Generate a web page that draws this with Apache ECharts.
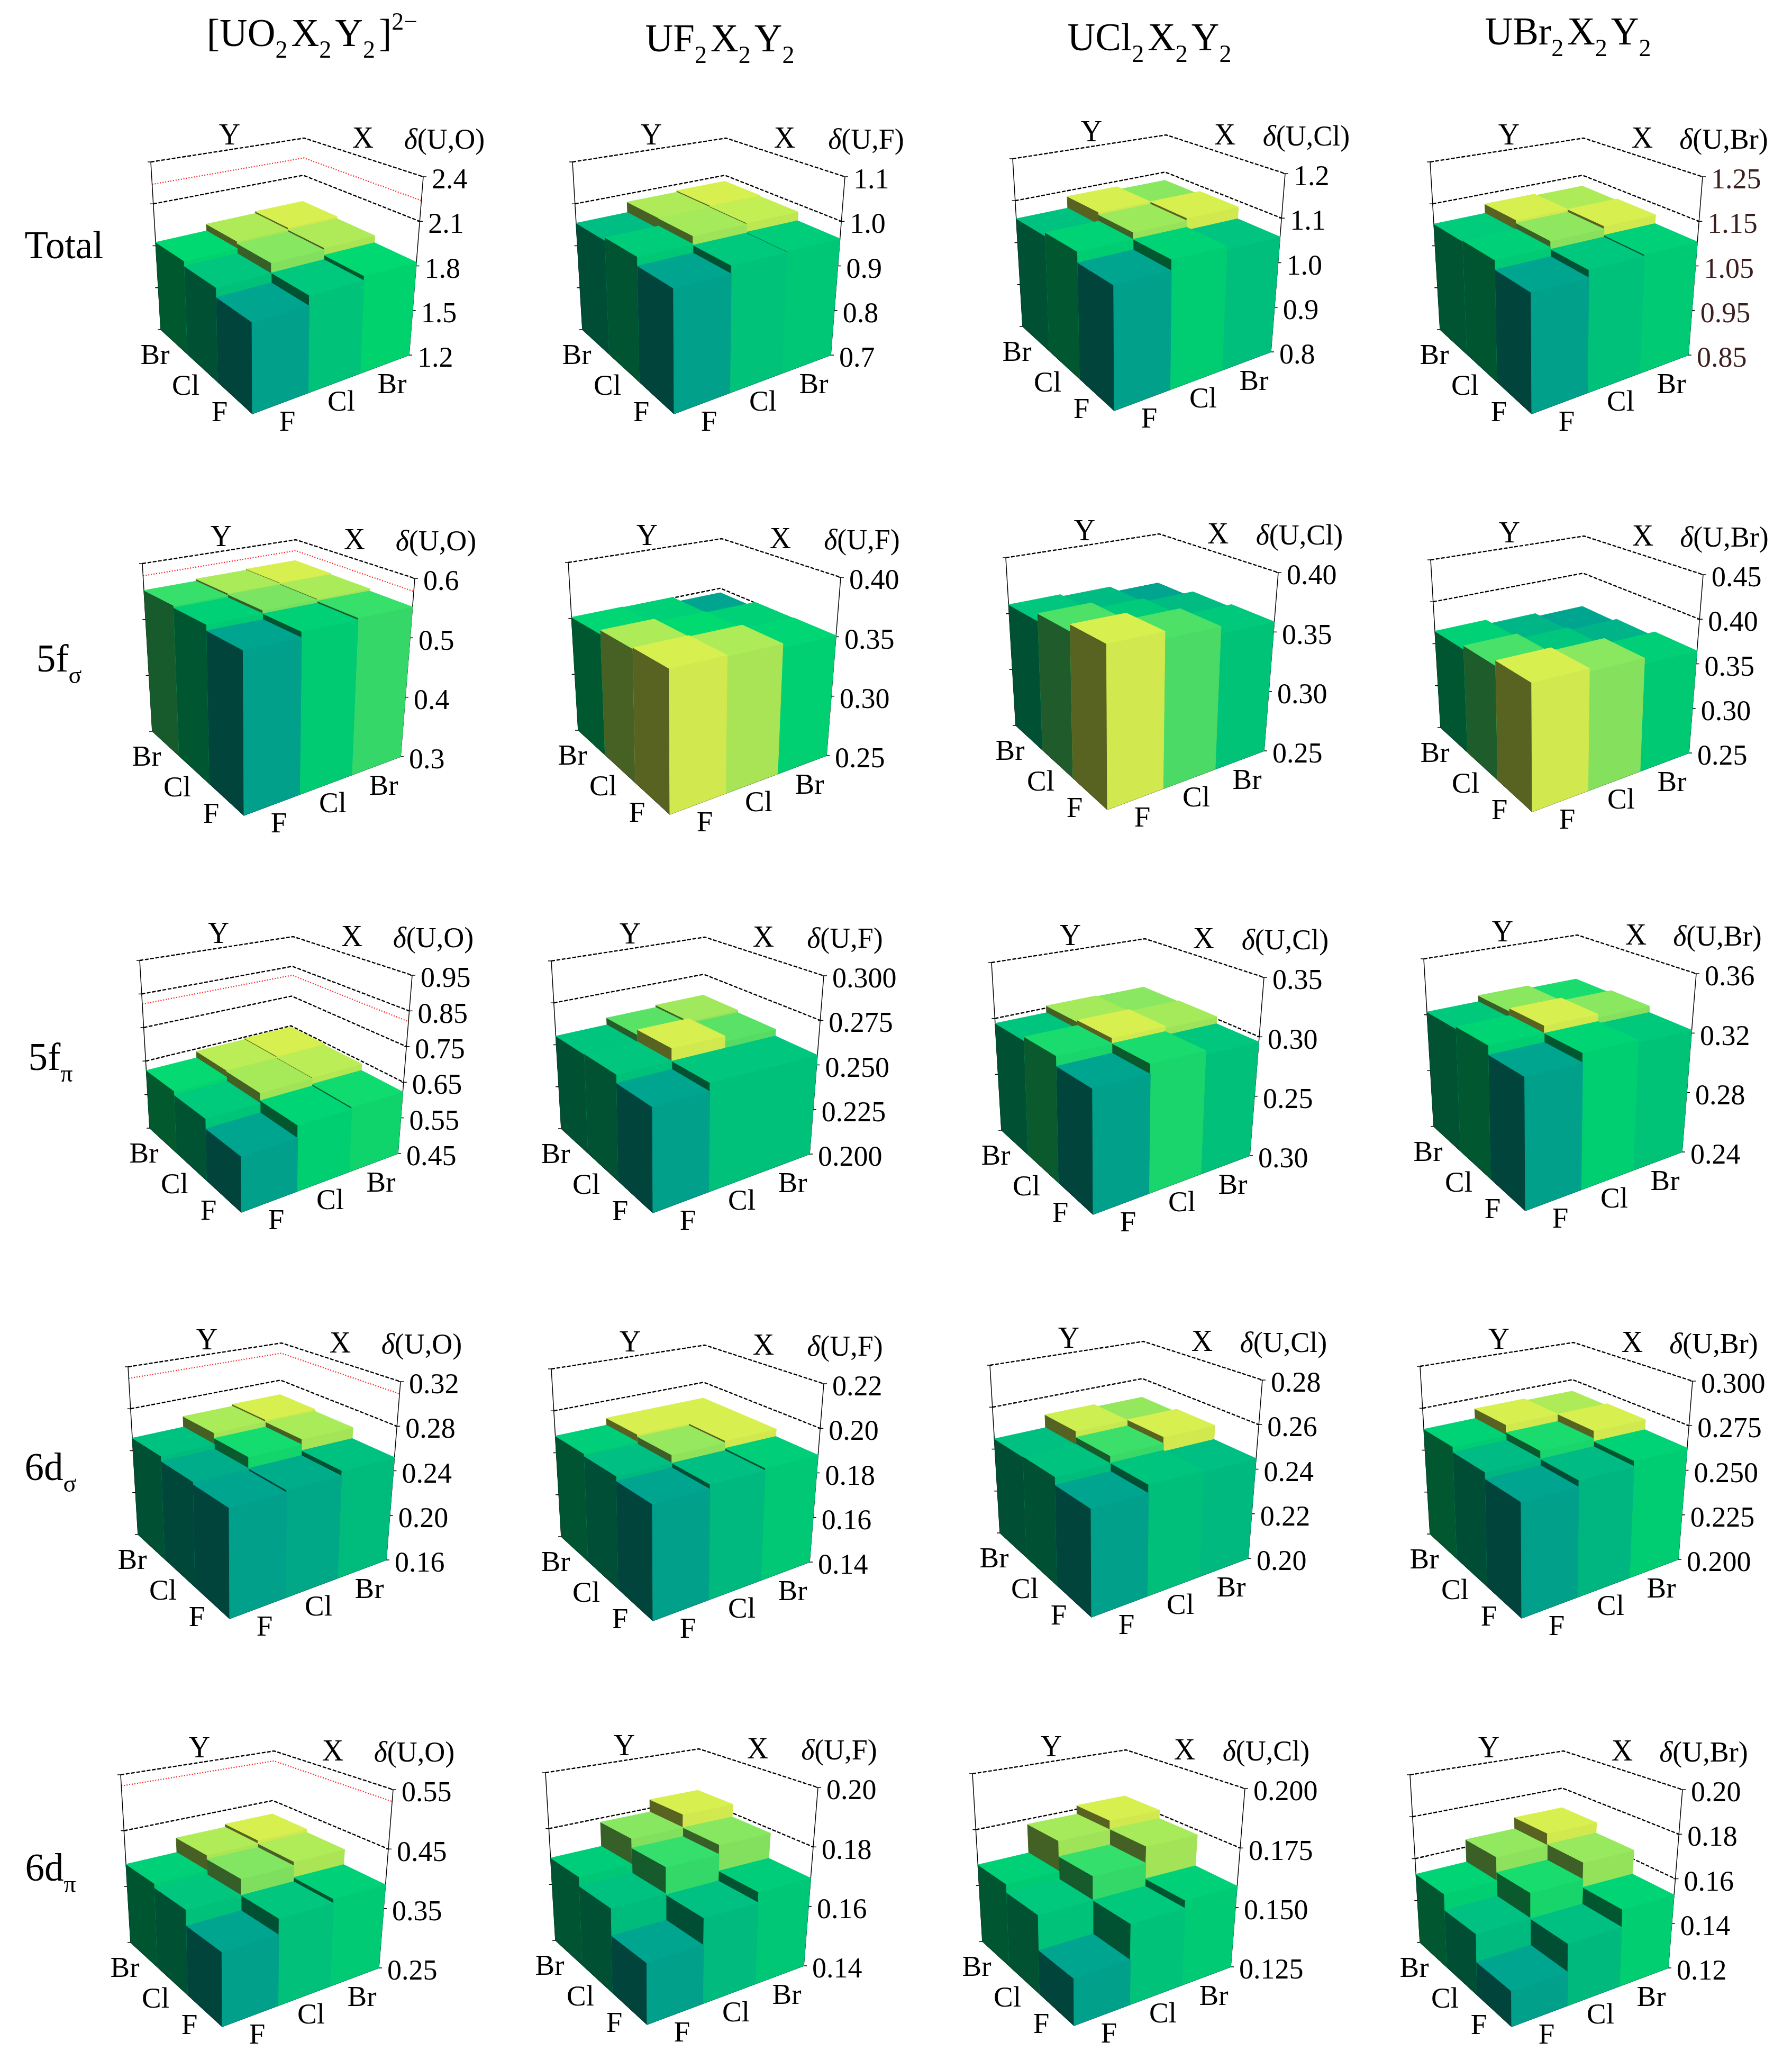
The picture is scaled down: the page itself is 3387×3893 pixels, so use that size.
<!DOCTYPE html>
<html>
<head>
<meta charset="utf-8">
<title>delta(U,L) bars</title>
<script src="https://cdn.jsdelivr.net/npm/echarts@6/dist/echarts.min.js"></script>
<style>
html, body { margin: 0; padding: 0; background: #fff; }
#main { width: 3387px; height: 3893px; }
</style>
</head>
<body>
<div id="main"></div>
<script>
// categories
var xCats = ['F', 'Cl', 'Br'];
var yCats = ['F', 'Cl', 'Br'];
var rowNames = ['Total', '5f', '5f', '6d', '6d'];
var rowSubs = ['', 'σ', 'π', 'σ', 'π'];

// bar heights, row by row: Y = F, Cl, Br and in each row X = F, Cl, Br
var totalUO2 = [1.73, 1.795, 1.825, 1.79, 1.86, 1.875, 1.825, 1.875, 1.89];
var totalUF2 = [0.942, 0.959, 0.961, 0.961, 0.979, 0.982, 0.954, 0.98, 0.984];
var totalUCl2 = [1.042, 1.065, 1.058, 1.065, 1.08, 1.086, 1.057, 1.086, 1.078];
var totalUBr2 = [1.084, 1.10, 1.104, 1.104, 1.118, 1.125, 1.102, 1.125, 1.121];
var fsUO2 = [0.539, 0.5485, 0.552, 0.5485, 0.554, 0.556, 0.552, 0.556, 0.558];
var fsUF2 = [0.3555, 0.3545, 0.351, 0.3545, 0.3515, 0.3505, 0.351, 0.3505, 0.3455];
var fsUCl2 = [0.37, 0.3645, 0.3586, 0.3645, 0.359, 0.356, 0.358, 0.356, 0.3505];
var fsUBr2 = [0.3745, 0.371, 0.3646, 0.369, 0.3626, 0.359, 0.365, 0.3596, 0.3554];
var fpUO2 = [0.585, 0.618, 0.623, 0.611, 0.639, 0.642, 0.622, 0.642, 0.646];
var fpUF2 = [0.251, 0.2555, 0.2555, 0.2555, 0.2625, 0.2595, 0.2552, 0.2595, 0.261];
var fpUCl2 = [0.291, 0.2990, 0.2957, 0.2990, 0.3035, 0.302, 0.2956, 0.302, 0.3012];
var fpUBr2 = [0.3175, 0.3235, 0.322, 0.3235, 0.3285, 0.3265, 0.322, 0.3265, 0.3245];
var dsUO2 = [0.2455, 0.2475, 0.252, 0.2475, 0.2575, 0.2625, 0.252, 0.2625, 0.2645];
var dsUF2 = [0.185, 0.187, 0.188, 0.187, 0.1905, 0.1915, 0.188, 0.1915, 0.1915];
var dsUCl2 = [0.2418, 0.2454, 0.2448, 0.2452, 0.2485, 0.2515, 0.2449, 0.2513, 0.25];
var dsUBr2 = [0.256, 0.2595, 0.2625, 0.2595, 0.264, 0.2685, 0.2625, 0.2685, 0.2673];
var dpUO2 = [0.358, 0.383, 0.39, 0.383, 0.41, 0.417, 0.39, 0.417, 0.423];
var dpUF2 = [0.1578, 0.1661, 0.1695, 0.1664, 0.1752, 0.1785, 0.1695, 0.1785, 0.1833];
var dpUCl2 = [0.142, 0.1558, 0.159, 0.1558, 0.1657, 0.1729, 0.1593, 0.1726, 0.1768];
var dpUBr2 = [0.1337, 0.1452, 0.1528, 0.1454, 0.1565, 0.1642, 0.1526, 0.1637, 0.1695];

// tick labels, bottom to top
var ticksTotalUO2 = ['1.2', '1.5', '1.8', '2.1', '2.4'];
var ticksTotalUF2 = ['0.7', '0.8', '0.9', '1.0', '1.1'];
var ticksTotalUCl2 = ['0.8', '0.9', '1.0', '1.1', '1.2'];
var ticksTotalUBr2 = ['0.85', '0.95', '1.05', '1.15', '1.25'];
var ticksFsUO2 = ['0.3', '0.4', '0.5', '0.6'];
var ticksFsUF2 = ['0.25', '0.30', '0.35', '0.40'];
var ticksFsUCl2 = ['0.25', '0.30', '0.35', '0.40'];
var ticksFsUBr2 = ['0.25', '0.30', '0.35', '0.40', '0.45'];
var ticksFpUO2 = ['0.45', '0.55', '0.65', '0.75', '0.85', '0.95'];
var ticksFpUF2 = ['0.200', '0.225', '0.250', '0.275', '0.300'];
var ticksFpUCl2 = ['0.30', '0.25', '0.30', '0.35']; // bottom label is printed 0.30 in the source figure
var ticksFpUBr2 = ['0.24', '0.28', '0.32', '0.36'];
var ticksDsUO2 = ['0.16', '0.20', '0.24', '0.28', '0.32'];
var ticksDsUF2 = ['0.14', '0.16', '0.18', '0.20', '0.22'];
var ticksDsUCl2 = ['0.20', '0.22', '0.24', '0.26', '0.28'];
var ticksDsUBr2 = ['0.200', '0.225', '0.250', '0.275', '0.300'];
var ticksDpUO2 = ['0.25', '0.35', '0.45', '0.55'];
var ticksDpUF2 = ['0.14', '0.16', '0.18', '0.20'];
var ticksDpUCl2 = ['0.125', '0.150', '0.175', '0.200'];
var ticksDpUBr2 = ['0.12', '0.14', '0.16', '0.18', '0.20'];

// red reference level, only in the first column
var redLevels = [2.24, 0.578, 0.82, 0.309, 0.53];

var panels = [
    { values: totalUO2, ticks: ticksTotalUO2, min: 1.2, max: 2.4, name: '(U,O)', col: 0, row: 0 },
    { values: totalUF2, ticks: ticksTotalUF2, min: 0.7, max: 1.1, name: '(U,F)', col: 1, row: 0 },
    { values: totalUCl2, ticks: ticksTotalUCl2, min: 0.8, max: 1.2, name: '(U,Cl)', col: 2, row: 0 },
    { values: totalUBr2, ticks: ticksTotalUBr2, min: 0.85, max: 1.25, name: '(U,Br)', col: 3, row: 0, tickColor: '#3c1f1f' },
    { values: fsUO2, ticks: ticksFsUO2, min: 0.3, max: 0.6, name: '(U,O)', col: 0, row: 1 },
    { values: fsUF2, ticks: ticksFsUF2, min: 0.25, max: 0.4, name: '(U,F)', col: 1, row: 1 },
    { values: fsUCl2, ticks: ticksFsUCl2, min: 0.25, max: 0.4, name: '(U,Cl)', col: 2, row: 1 },
    { values: fsUBr2, ticks: ticksFsUBr2, min: 0.25, max: 0.45, name: '(U,Br)', col: 3, row: 1 },
    { values: fpUO2, ticks: ticksFpUO2, min: 0.45, max: 0.95, name: '(U,O)', col: 0, row: 2 },
    { values: fpUF2, ticks: ticksFpUF2, min: 0.2, max: 0.3, name: '(U,F)', col: 1, row: 2 },
    { values: fpUCl2, ticks: ticksFpUCl2, min: 0.2, max: 0.35, name: '(U,Cl)', col: 2, row: 2 },
    { values: fpUBr2, ticks: ticksFpUBr2, min: 0.24, max: 0.36, name: '(U,Br)', col: 3, row: 2 },
    { values: dsUO2, ticks: ticksDsUO2, min: 0.16, max: 0.32, name: '(U,O)', col: 0, row: 3 },
    { values: dsUF2, ticks: ticksDsUF2, min: 0.14, max: 0.22, name: '(U,F)', col: 1, row: 3 },
    { values: dsUCl2, ticks: ticksDsUCl2, min: 0.2, max: 0.28, name: '(U,Cl)', col: 2, row: 3 },
    { values: dsUBr2, ticks: ticksDsUBr2, min: 0.2, max: 0.3, name: '(U,Br)', col: 3, row: 3 },
    { values: dpUO2, ticks: ticksDpUO2, min: 0.25, max: 0.55, name: '(U,O)', col: 0, row: 4 },
    { values: dpUF2, ticks: ticksDpUF2, min: 0.14, max: 0.2, name: '(U,F)', col: 1, row: 4 },
    { values: dpUCl2, ticks: ticksDpUCl2, min: 0.125, max: 0.2, name: '(U,Cl)', col: 2, row: 4 },
    { values: dpUBr2, ticks: ticksDpUBr2, min: 0.12, max: 0.2, name: '(U,Br)', col: 3, row: 4 }
];

// layout: front bottom corner of each panel, then the box shape relative to it
var frontX = [
    [477, 1274, 2106, 2895],
    [461, 1266, 2093, 2896],
    [456, 1234, 2066, 2883],
    [434, 1234, 2063, 2876],
    [420, 1223, 2030, 2857]
];
var frontY = [
    [782, 782, 776, 782],
    [1541, 1539, 1530, 1534],
    [2291, 2292, 2295, 2288],
    [3059, 3063, 3056, 3058],
    [3830, 3826, 3828, 3830]
];
var floorQuad = [[0, 0], [296, -111], [91, -240], [-173, -159]];
var roofQuad = [[-2, -392], [323, -448], [98, -521], [-192, -476]];

var serif = '"Liberation Serif", "Times New Roman", serif';
var rampStops = ['rgb(0,165,143)', 'rgb(0,180,136)', 'rgb(0,200,125)', 'rgb(0,218,113)', 'rgb(130,230,98)', 'rgb(215,240,80)'];

// maps the unit square on a quad, keeps the perspective of the drawing
function squareToQuad(q) {
    var x0 = q[0][0], y0 = q[0][1], x1 = q[1][0], y1 = q[1][1];
    var x2 = q[2][0], y2 = q[2][1], x3 = q[3][0], y3 = q[3][1];
    var dx1 = x1 - x2, dx2 = x3 - x2, sx = x0 - x1 + x2 - x3;
    var dy1 = y1 - y2, dy2 = y3 - y2, sy = y0 - y1 + y2 - y3;
    var den = dx1 * dy2 - dx2 * dy1;
    var g = (sx * dy2 - dx2 * sy) / den;
    var h = (dx1 * sy - sx * dy1) / den;
    var a = x1 - x0 + g * x1, b = x3 - x0 + h * x3;
    var d = y1 - y0 + g * y1, e = y3 - y0 + h * y3;
    return function (u, v) {
        var w = g * u + h * v + 1;
        return [(a * u + b * v + x0) / w, (d * u + e * v + y0) / w];
    };
}
var floorMap = squareToQuad(floorQuad);
var roofMap = squareToQuad(roofQuad);

function shade(color, k) {
    var c = echarts.color.parse(color);
    return 'rgb(' + Math.round(c[0] * k) + ',' + Math.round(c[1] * k) + ',' + Math.round(c[2] * k) + ')';
}

// u, v in the floor plane, t = 0 on the floor and 1 on the roof
function project(fx, fy, u, v, t) {
    var a = floorMap(u, v);
    var b = roofMap(u, v);
    return [fx + a[0] + (b[0] - a[0]) * t, fy + a[1] + (b[1] - a[1]) * t];
}

function heightOf(api, params, value) {
    var sys = params.coordSys;
    return (sys.y + sys.height - api.coord([0, value])[1]) / sys.height;
}

function face(points, color) {
    return {
        type: 'polygon',
        shape: { points: points },
        style: { fill: color, stroke: color, lineWidth: 1 }
    };
}

function line(points, color, width, dash) {
    return {
        type: 'polyline',
        shape: { points: points },
        style: { fill: null, stroke: color, lineWidth: width, lineDash: dash || null }
    };
}

function label(text, x, y, size, color, align, rich) {
    return {
        type: 'text',
        x: x,
        y: y,
        style: {
            text: text,
            fontFamily: serif,
            fontSize: size,
            fill: color || '#000',
            align: align || 'center',
            verticalAlign: 'middle',
            rich: rich
        }
    };
}

function barRenderer(panel, fx, fy) {
    var low = Math.min.apply(null, panel.values);
    var high = Math.max.apply(null, panel.values);
    return function (params, api) {
        var i = api.value(0), j = api.value(1), value = api.value(2);
        var t = heightOf(api, params, value);
        var color = echarts.color.lerp((value - low) / (high - low), rampStops);
        var u0 = i / 3, u1 = (i + 1) / 3, v0 = j / 3, v1 = (j + 1) / 3;
        return {
            type: 'group',
            children: [
                face([project(fx, fy, u0, v0, 0), project(fx, fy, u0, v1, 0), project(fx, fy, u0, v1, t), project(fx, fy, u0, v0, t)], shade(color, 0.41)),
                face([project(fx, fy, u0, v0, 0), project(fx, fy, u1, v0, 0), project(fx, fy, u1, v0, t), project(fx, fy, u0, v0, t)], shade(color, 0.97)),
                face([project(fx, fy, u0, v0, t), project(fx, fy, u1, v0, t), project(fx, fy, u1, v1, t), project(fx, fy, u0, v1, t)], color)
            ]
        };
    };
}

function backWall(fx, fy, t) {
    return [project(fx, fy, 0, 1, t), project(fx, fy, 1, 1, t), project(fx, fy, 1, 0, t)];
}

function tickRenderer(panel, fx, fy) {
    return function (params, api) {
        var t = heightOf(api, params, api.value(1));
        var text = panel.ticks[api.value(2)];
        var right = project(fx, fy, 1, 0, t);
        var left = project(fx, fy, 0, 1, t);
        var kids = [
            line([[left[0] - 6, left[1]], [left[0] + 4, left[1]]], '#000', 1.5),
            line([[right[0] - 4, right[1]], [right[0] + 6, right[1]]], '#000', 1.5),
            label(text, right[0] + 16, right[1] + 8, 54, panel.tickColor, 'left')
        ];
        if (api.value(2) > 0) {
            kids.unshift(line(backWall(fx, fy, t), '#000', 2.4, [7, 3]));
        }
        return { type: 'group', children: kids };
    };
}

function redRenderer(fx, fy) {
    return function (params, api) {
        var t = heightOf(api, params, api.value(1));
        return line(backWall(fx, fy, t), '#ff1e1e', 2.2, [2, 3]);
    };
}

function frameRenderer(panel, fx, fy) {
    return function () {
        var a = project(fx, fy, 0, 1, 0), b = project(fx, fy, 0, 0, 0), c = project(fx, fy, 1, 0, 0);
        var d = project(fx, fy, 0, 1, 1), e = project(fx, fy, 1, 0, 1);
        return {
            type: 'group',
            children: [
                line([d, a, b, c, e], '#000', 1.5),
                label('Y', fx - 43, fy - 524, 56),
                label('X', fx + 209, fy - 518, 56),
                label('{d|δ}' + panel.name, fx + 363, fy - 515, 54, '#000', 'center', {
                    d: { fontFamily: serif, fontSize: 54, fontStyle: 'italic' }
                }),
                label(yCats[0], fx - 62, fy, 55),
                label(yCats[1], fx - 126, fy - 50, 55),
                label(yCats[2], fx - 184, fy - 108, 55),
                label(xCats[0], fx + 66, fy + 18, 55),
                label(xCats[1], fx + 168, fy - 20, 55),
                label(xCats[2], fx + 264, fy - 53, 55)
            ]
        };
    };
}

var grids = [], xAxes = [], yAxes = [], series = [];
panels.forEach(function (panel, p) {
    var fx = frontX[panel.row][panel.col];
    var fy = frontY[panel.row][panel.col];
    var step = (panel.max - panel.min) / (panel.ticks.length - 1);
    var tickData = panel.ticks.map(function (text, k) {
        return [0, panel.min + k * step, k];
    });
    var barData = [];
    // back to front so that the nearer bars cover the others
    for (var i = 2; i >= 0; i--) {
        for (var j = 2; j >= 0; j--) {
            barData.push([i, j, panel.values[j * 3 + i]]);
        }
    }
    grids.push({ left: fx + floorQuad[3][0], top: fy + roofQuad[1][1], width: floorQuad[1][0] - floorQuad[3][0], height: floorQuad[1][1] - roofQuad[1][1] });
    xAxes.push({ gridIndex: p, type: 'category', data: xCats, show: false });
    yAxes.push({ gridIndex: p, type: 'value', min: panel.min, max: panel.max, show: false, splitLine: { show: false } });

    var common = { type: 'custom', coordinateSystem: 'cartesian2d', xAxisIndex: p, yAxisIndex: p, silent: true, clip: false, animation: false };
    series.push(Object.assign({}, common, { z: 2, data: tickData, renderItem: tickRenderer(panel, fx, fy), encode: { x: 0, y: 1 } }));
    if (panel.col === 0) {
        series.push(Object.assign({}, common, { z: 2, data: [[0, redLevels[panel.row]]], renderItem: redRenderer(fx, fy), encode: { x: 0, y: 1 } }));
    }
    series.push(Object.assign({}, common, { z: 3, data: [[0, panel.min]], renderItem: frameRenderer(panel, fx, fy), encode: { x: 0, y: 1 } }));
    series.push(Object.assign({}, common, { z: 4, data: barData, renderItem: barRenderer(panel, fx, fy), encode: { x: 0, y: 2 } }));
});

var titleRich = {
    n: { fontFamily: serif, fontSize: 73, lineHeight: 84, color: '#000' },
    s: { fontFamily: serif, fontSize: 46, lineHeight: 84, padding: [58, 7, 0, 0], color: '#000' },
    u: { fontFamily: serif, fontSize: 46, lineHeight: 84, padding: [0, 0, 48, 0], color: '#000' }
};
function titleItem(text, x, y) {
    return {
        text: text,
        left: x,
        top: y,
        padding: 0,
        textAlign: 'center',
        textVerticalAlign: 'middle',
        textStyle: { rich: titleRich, fontFamily: serif, fontSize: 73, fontWeight: 'normal', color: '#000' }
    };
}
var titles = [
    titleItem('{n|[UO}{s|2}{n|X}{s|2}{n|Y}{s|2}{n|]}{u|2−}', 590, 68),
    titleItem('{n|UF}{s|2}{n|X}{s|2}{n|Y}{s|2}', 1364, 78),
    titleItem('{n|UCl}{s|2}{n|X}{s|2}{n|Y}{s|2}', 2176, 76),
    titleItem('{n|UBr}{s|2}{n|X}{s|2}{n|Y}{s|2}', 2967, 65)
];
var rowX = [121, 115, 99, 99, 99];
var rowY = [469, 1250, 2003, 2778, 3535];
rowNames.forEach(function (name, k) {
    var text = '{n|' + name + '}' + (rowSubs[k] ? '{s|' + rowSubs[k] + '}' : '');
    titles.push(titleItem(text, rowX[k], rowY[k]));
});

var chart = echarts.init(document.getElementById('main'));
chart.setOption({
    backgroundColor: '#fff',
    animation: false,
    title: titles,
    grid: grids,
    xAxis: xAxes,
    yAxis: yAxes,
    series: series
});
</script>
</body>
</html>
